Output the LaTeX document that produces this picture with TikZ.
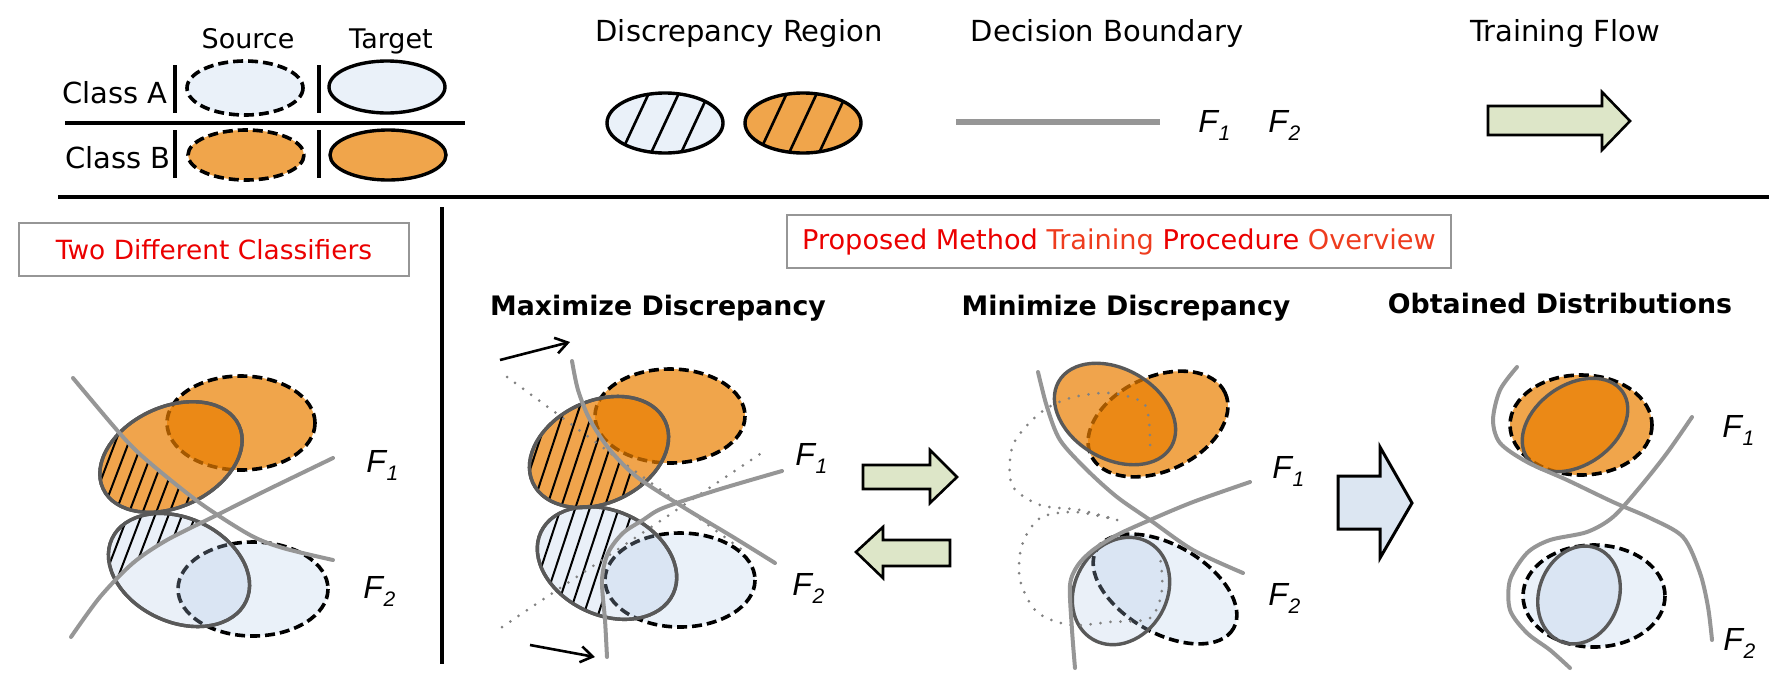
\documentclass[tikz,border=0pt]{standalone}
\usepackage{fontspec}
\setmainfont{DejaVu Sans}
\newfontfamily\ffont{Liberation Sans}
\usetikzlibrary{arrows.meta}
\definecolor{orS}{RGB}{240,165,75}
\definecolor{blS}{RGB}{234,241,249}
\definecolor{orT}{RGB}{234,126,0}
\definecolor{blT}{RGB}{178,200,230}
\definecolor{tline}{RGB}{89,89,89}
\definecolor{bndc}{RGB}{150,150,150}
\definecolor{dotc}{RGB}{130,130,130}
\definecolor{grn}{RGB}{221,230,200}
\definecolor{bluarr}{RGB}{220,230,242}
\definecolor{redt}{RGB}{235,0,0}
\definecolor{redo}{RGB}{238,60,30}
\definecolor{boxg}{RGB}{150,150,150}
\newcommand\FF[1]{{\ffont\itshape F\kern0.3pt\raisebox{-0.5ex}{\fontsize{10.5}{10}\selectfont #1}}}
\begin{document}
\begin{tikzpicture}[x=0.5pt,y=-0.5pt,
  sdash/.style={draw=black, line width=1.8pt, dash pattern=on 5pt off 2.5pt},
  tsolid/.style={draw=tline, line width=1.7pt},
  bline/.style={draw=bndc, line width=2pt, line cap=round},
  hatchl/.style={draw=black, line width=1pt},
  dotline/.style={draw=dotc, line width=1.5pt, line cap=round, dash pattern=on 0pt off 5pt},
  legtxt/.style={anchor=base, inner sep=0pt, font=\fontsize{14.5}{17}\selectfont},
  smalltxt/.style={anchor=base, inner sep=0pt, font=\fontsize{13.5}{16}\selectfont},
  ttltxt/.style={anchor=base, inner sep=0pt, font=\bfseries\fontsize{13.4}{16}\selectfont},
  ftxt/.style={anchor=base west, inner sep=0pt, font=\fontsize{16}{18}\selectfont},
  flowarrow/.style={draw=black, line width=1.3pt, line join=miter},
  legline/.style={draw=black, line width=1.7pt},
  redbox/.style={draw=boxg, line width=0.9pt, inner sep=0pt, font=\fontsize{13.2}{16}\selectfont}
]
\useasboundingbox (0,0) rectangle (1786,686);

% ================= LEGEND =================
\node[smalltxt] (source) at (248,48) {Source};
\node[smalltxt] (target) at (391,48) {Target};
\node[legtxt] (classA) at (115,103) {Class A};
\node[legtxt] (classB) at (118,168) {Class B};
\draw[legline] (175,65) -- (175,113);
\draw[legline] (319,65) -- (319,113);
\draw[legline] (175,130) -- (175,178);
\draw[legline] (319,130) -- (319,178);
\draw[legline] (65,123) -- (465,123);
\draw[fill=blS, sdash] (245,88) circle[x radius=58, y radius=27];
\draw[fill=blS, legline] (387,87) circle[x radius=58, y radius=26];
\draw[fill=orS, sdash] (246,155) circle[x radius=58, y radius=25];
\draw[fill=orS, legline] (388,155) circle[x radius=58, y radius=25];

\node[legtxt] (discr) at (739,41) {Discrepancy Region};
\fill[blS] (665,123) circle[x radius=58, y radius=30];
\begin{scope}
  \clip (665,123) circle[x radius=58, y radius=30];
  \foreach \o in {-30,0,30} \draw[hatchl, line width=1.3pt] ({665+\o-0.466*45},168) -- ({665+\o+0.466*45},78);
\end{scope}
\draw[legline] (665,123) circle[x radius=58, y radius=30];
\fill[orS] (803,123) circle[x radius=58, y radius=30];
\begin{scope}
  \clip (803,123) circle[x radius=58, y radius=30];
  \foreach \o in {-30,0,30} \draw[hatchl, line width=1.3pt] ({803+\o-0.466*45},168) -- ({803+\o+0.466*45},78);
\end{scope}
\draw[legline] (803,123) circle[x radius=58, y radius=30];

\node[legtxt] (decb) at (1107,41) {Decision Boundary};
\coordinate (bl1) at (956,122);
\coordinate (bl2) at (1160,122);
\draw[draw=bndc, line width=2.6pt] (bl1) -- (bl2);
\node[ftxt] (lf1) at (1198,132) {\FF{1}};
\node[ftxt] (lf2) at (1268,132) {\FF{2}};

\node[legtxt] (tflow) at (1565,41) {Training Flow};
\draw[flowarrow, fill=grn] (1488,106) -- (1602,106) -- (1602,92) -- (1630,121) -- (1602,150) -- (1602,135) -- (1488,135) -- cycle;

\draw[draw=black, line width=2.2pt] (58,197) -- (1769,197);
\draw[draw=black, line width=2.2pt] (442,207) -- (442,664);

% ================= BOXES / TITLES =================
\node[redbox, minimum width=195pt, minimum height=26.5pt] (box1) at (214,249.5) {\color{redt}Two Different Classifiers};
\node[redbox, minimum width=332pt, minimum height=26.5pt] (box2) at (1119,241.5) {\fontsize{13.6}{16}\selectfont\color{redt}Proposed Method \textcolor{redo}{Training} Procedure \textcolor{redo}{Overview}};
\node[ttltxt] (tmax) at (658,315) {Maximize Discrepancy};
\node[ttltxt] (tmin) at (1126,315) {Minimize Discrepancy};
\node[ttltxt] (tobt) at (1560,313) {Obtained Distributions};

% ================= PANEL 1 =================
\draw[fill=orS, sdash] (241,423) circle[x radius=74, y radius=47];
\draw[fill=blS, sdash] (253,589) circle[x radius=75, y radius=47];
\draw[tsolid, fill=orT, fill opacity=0.7] (171,457) circle[x radius=75, y radius=50, rotate=25];
\draw[tsolid, fill=blT, fill opacity=0.27] (179,570) circle[x radius=74, y radius=52, rotate=-25];
\begin{scope}
  \clip plot[smooth] coordinates {(73,378) (123,437) (150,463) (200,503) (250,535) (283,548) (333,560)} -- (345,560) -- (345,700) -- (0,700) -- (0,378) -- cycle;
  \clip plot[smooth] coordinates {(71,637) (100,597) (133,563) (167,540) (217,515) (267,490) (333,458)} -- (345,458) -- (345,300) -- (0,300) -- (0,637) -- cycle;
  \clip (171,457) circle[x radius=75, y radius=50, rotate=25] (179,570) circle[x radius=74, y radius=52, rotate=-25];
  \foreach \k in {-14,...,14} \draw[hatchl] ({123+13.5*\k-0.38*170},{493+170}) -- ({123+13.5*\k+0.38*170},{493-170});
\end{scope}
\draw[tsolid] (171,457) circle[x radius=75, y radius=50, rotate=25];
\draw[tsolid] (179,570) circle[x radius=74, y radius=52, rotate=-25];
\draw[bline] plot[smooth] coordinates {(73,378) (123,437) (150,463) (200,503) (250,535) (283,548) (333,560)};
\draw[bline] plot[smooth] coordinates {(71,637) (100,597) (133,563) (167,540) (217,515) (267,490) (333,458)};
\node[ftxt] (p1f1) at (366,472) {\FF{1}};
\node[ftxt] (p1f2) at (363,598) {\FF{2}};

% ================= PANEL 2 =================
\draw[fill=orS, sdash] (670,416) circle[x radius=75, y radius=47];
\draw[fill=blS, sdash] (680,580) circle[x radius=75, y radius=47];
\draw[tsolid, fill=orT, fill opacity=0.7] (599,452) circle[x radius=73, y radius=51, rotate=25];
\draw[tsolid, fill=blT, fill opacity=0.27] (607,563) circle[x radius=73, y radius=52, rotate=-25];
\begin{scope}
  \clip plot[smooth] coordinates {(572,361) (578,390) (590,420) (610,450) (637,477) (683,507) (733,537) (775,563)} -- (790,563) -- (790,700) -- (430,700) -- (430,361) -- cycle;
  \clip plot[smooth] coordinates {(607,657) (605,620) (602,580) (608,553) (623,533) (643,520) (663,508) (717,490) (782,471)} -- (790,471) -- (790,300) -- (430,300) -- (430,657) -- cycle;
  \clip (599,452) circle[x radius=73, y radius=51, rotate=25] (607,563) circle[x radius=73, y radius=52, rotate=-25];
  \foreach \k in {-14,...,14} \draw[hatchl] ({550+14.5*\k-0.33*180},{453+180}) -- ({550+14.5*\k+0.33*180},{453-180});
\end{scope}
\draw[tsolid] (599,452) circle[x radius=73, y radius=51, rotate=25];
\draw[tsolid] (607,563) circle[x radius=73, y radius=52, rotate=-25];
\coordinate (d1a) at (507,377);
\coordinate (d1b) at (745,552);
\coordinate (d2a) at (502,627);
\coordinate (d2b) at (763,452);
\draw[dotline] (d1a) -- (d1b);
\draw[dotline] (d2a) -- (d2b);
\draw[bline] plot[smooth] coordinates {(572,361) (578,390) (590,420) (610,450) (637,477) (683,507) (733,537) (775,563)};
\draw[bline] plot[smooth] coordinates {(607,657) (605,620) (602,580) (608,553) (623,533) (643,520) (663,508) (717,490) (782,471)};
\coordinate (ar1a) at (500,360);
\coordinate (ar1b) at (570,342);
\coordinate (ar2a) at (530,645);
\coordinate (ar2b) at (595,657);
\draw[line width=1.3pt, -{Straight Barb[length=6pt,width=8pt]}] (ar1a) -- (ar1b);
\draw[line width=1.3pt, -{Straight Barb[length=6pt,width=8pt]}] (ar2a) -- (ar2b);
\node[ftxt] (p2f1) at (795,465) {\FF{1}};
\node[ftxt] (p2f2) at (792,595) {\FF{2}};

% flow arrows between panels
\draw[flowarrow, fill=grn] (863,465) -- (930,465) -- (930,450) -- (957,477) -- (930,503) -- (930,489) -- (863,489) -- cycle;
\draw[flowarrow, fill=grn] (950,540) -- (883,540) -- (883,527) -- (856,552) -- (883,578) -- (883,566) -- (950,566) -- cycle;
\draw[flowarrow, fill=bluarr, line width=1.5pt] (1338,476) -- (1380,476) -- (1380,447) -- (1412,503) -- (1380,558) -- (1380,529) -- (1338,529) -- cycle;

% ================= PANEL 3 =================
\draw[fill=orS, sdash] (1158,424) circle[x radius=74, y radius=47, rotate=25];
\draw[fill=blS, sdash] (1165,589) circle[x radius=79, y radius=44, rotate=-30];
\draw[tsolid, fill=orT, fill opacity=0.7] (1115,414) circle[x radius=65, y radius=45, rotate=-30];
\draw[tsolid, fill=blT, fill opacity=0.27] (1121,591) circle[x radius=56, y radius=46, rotate=60];
\draw[dotline] plot[smooth] coordinates {(1150,445) (1145,405) (1110,393) (1070,398) (1040,413) (1013,445) (1012,485) (1040,505) (1080,510) (1117,520)};
\draw[dotline] plot[smooth] coordinates {(1117,520) (1075,512) (1040,518) (1022,545) (1020,580) (1037,612) (1070,625) (1110,622) (1150,618) (1162,590) (1160,555)};
\draw[bline] plot[smooth] coordinates {(1038,372) (1047,407) (1060,440) (1087,470) (1117,497) (1150,520) (1193,550) (1243,573)};
\draw[bline] plot[smooth] coordinates {(1075,668) (1072,630) (1070,585) (1078,565) (1093,550) (1117,535) (1150,520) (1193,502) (1250,482)};
\node[ftxt] (p3f1) at (1272,478) {\FF{1}};
\node[ftxt] (p3f2) at (1268,605) {\FF{2}};

% ================= PANEL 4 =================
\draw[fill=orS, sdash] (1581,425) circle[x radius=71, y radius=50];
\draw[fill=blS, sdash] (1594,596) circle[x radius=71, y radius=51];
\draw[tsolid, fill=orT, fill opacity=0.7] (1575,425) circle[x radius=58, y radius=40, rotate=35];
\draw[tsolid, fill=blT, fill opacity=0.27] (1579,595) circle[x radius=50, y radius=40, rotate=70];
\draw[bline] plot[smooth] coordinates {(1517,367) (1500,390) (1493,420) (1500,443) (1527,462) (1567,480) (1613,502) (1650,518) (1683,537) (1700,573) (1708,607) (1712,640)};
\draw[bline] plot[smooth] coordinates {(1692,417) (1667,453) (1640,487) (1613,517) (1587,532) (1550,540) (1527,553) (1510,580) (1510,610) (1527,633) (1550,650) (1570,668)};
\node[ftxt] (p4f1) at (1722,437) {\FF{1}};
\node[ftxt] (p4f2) at (1723,650) {\FF{2}};
\end{tikzpicture}
\end{document}
